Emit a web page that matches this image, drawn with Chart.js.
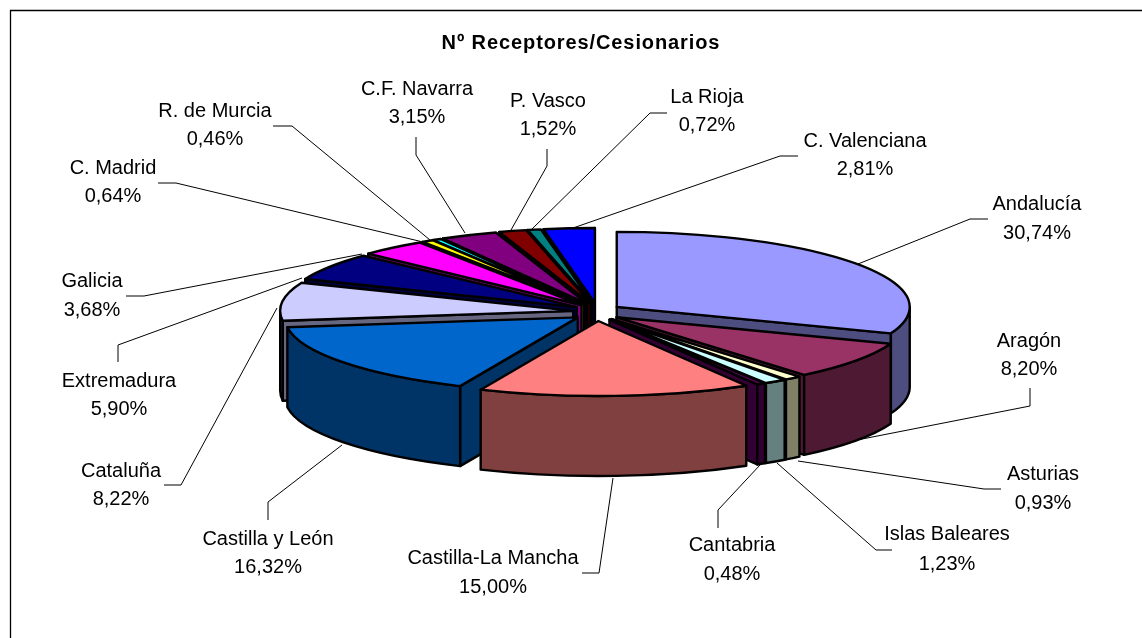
<!DOCTYPE html>
<html>
<head>
<meta charset="utf-8">
<style>
html,body{margin:0;padding:0;background:#fff;overflow:hidden}
#wrap{width:1142px;height:638px;position:relative}
canvas{display:block}
</style>
<script src="https://cdn.jsdelivr.net/npm/chart.js@4/dist/chart.umd.min.js"></script>
</head>
<body>
<div id="wrap"><canvas id="c" width="1142" height="638"></canvas></div>
<script>
const chartTitle = 'Nº Receptores/Cesionarios';
const categories = ['Andalucía','Aragón','Asturias','Islas Baleares','Cantabria','Castilla-La Mancha','Castilla y León','Cataluña','Extremadura','Galicia','C. Madrid','R. de Murcia','C.F. Navarra','P. Vasco','La Rioja','C. Valenciana'];
const values = [30.74,8.20,0.93,1.23,0.48,15.00,16.32,8.22,5.90,3.68,0.64,0.46,3.15,1.52,0.72,2.81];
const topColors = ['#9999FF','#993366','#FFFFCC','#CCFFFF','#660066','#FF8080','#0066CC','#CCCCFF','#000080','#FF00FF','#FFFF00','#00FFFF','#800080','#800000','#008080','#0000FF'];
const sideColors = ['#4D4D80','#4D1933','#808066','#668080','#330033','#804040','#003366','#666680','#000040','#800080','#808000','#008080','#400040','#400000','#004040','#000080'];

// layout of the labels: [centre x, first line y, second line y]
const labelSpots = [[1037,204,233],[1029,341,369],[1043,474,503],[947,534,564],[732,545,574],[493,558,587],[268,539,567],[121,471,499],[119,381,409],[92,281,310],[113,168,196],[215,111,139],[417,89,117],[548,101,129],[707,97,125],[865,141,169]];
const leaders = [
 [[988,219],[970,219],[858,264]],
 [[1030,388],[1030,406],[857,440]],
 [[1001,489],[984,489],[798,461]],
 [[892,550],[876,550],[777,463]],
 [[718,528],[718,510],[760,465]],
 [[582,573],[599,573],[613,478]],
 [[268,520],[268,502],[342,445]],
 [[164,485],[181,485],[277,308]],
 [[118,362],[118,345],[302,278]],
 [[126,296],[144,296],[362,254]],
 [[158,183],[176,183],[423,242]],
 [[273,126],[292,126],[430,240]],
 [[416,137],[416,155],[465,233]],
 [[547,149],[547,166],[511,230]],
 [[667,113],[650,113],[532,229]],
 [[798,156],[780,156],[573,228]]
];

// 3D look of the pie
const centre = {x:597, y:312};
const squash = 0.256, pieRadius = 293, depth = 80, burstX = 24, burstY = 9, edge = 2.4;

const pie3d = {
  id:'pie3d',
  beforeDraw(chart){ chart.ctx.letterSpacing = '0.9px'; },
  afterLayout(chart){ if(chart.titleBlock){ chart.titleBlock.left = 20; } },
  beforeDatasetsDraw(chart){
    const ctx = chart.ctx;
    ctx.letterSpacing = '0px';
    // frame (top and left edges only are inside the picture)
    ctx.save();
    ctx.strokeStyle = '#000'; ctx.lineWidth = 1.3;
    ctx.beginPath(); ctx.moveTo(10.5,638); ctx.lineTo(10.5,10.5); ctx.lineTo(1142,10.5); ctx.stroke();
    ctx.restore();

    const arcs = chart.getDatasetMeta(0).data;
    const order = arcs.map((a,i)=>i).sort((p,q)=>{
      const m = i => (arcs[i].startAngle+arcs[i].endAngle)/2;
      return Math.sin(m(p)) - Math.sin(m(q));
    });
    ctx.lineJoin = 'round';
    for(const i of order){
      const arc = arcs[i];
      const mid = (arc.startAngle+arc.endAngle)/2;
      const ax = centre.x + Math.cos(mid)*burstX;
      const ay = centre.y + Math.sin(mid)*burstY;
      const r = arc.outerRadius, ry = r*squash;
      const rim = t => [ax+r*Math.cos(t), ay+ry*Math.sin(t)];
      ctx.save();
      ctx.lineWidth = edge; ctx.strokeStyle = '#000'; ctx.fillStyle = sideColors[i];
      const wall = t => {
        const p = rim(t);
        ctx.beginPath(); ctx.moveTo(ax,ay); ctx.lineTo(p[0],p[1]); ctx.lineTo(p[0],p[1]+depth); ctx.lineTo(ax,ay+depth); ctx.closePath();
        ctx.fill(); ctx.stroke();
      };
      if(Math.cos(arc.startAngle) < 0) wall(arc.startAngle);
      if(Math.cos(arc.endAngle) > 0) wall(arc.endAngle);
      // outer wall, front half only
      const a0 = Math.max(arc.startAngle,0), a1 = Math.min(arc.endAngle,Math.PI);
      if(a1 > a0){
        ctx.beginPath();
        ctx.ellipse(ax,ay,r,ry,0,a0,a1,false);
        ctx.ellipse(ax,ay+depth,r,ry,0,a1,a0,true);
        ctx.closePath(); ctx.fill(); ctx.stroke();
      }
      // top face drawn by the library's own arc element
      ctx.save();
      ctx.translate(ax,ay);
      ctx.scale(1,squash);
      ctx.translate(-arc.x,-arc.y);
      arc.draw(ctx);
      ctx.beginPath();
      ctx.moveTo(arc.x,arc.y);
      ctx.arc(arc.x,arc.y,r,arc.startAngle,arc.endAngle);
      ctx.closePath();
      ctx.restore();
      ctx.stroke();
      ctx.restore();
    }
    return false;
  },
  afterDraw(chart){
    const ctx = chart.ctx;
    ctx.save();
    ctx.letterSpacing = '0px';
    ctx.strokeStyle = '#000'; ctx.lineWidth = 1;
    for(const l of leaders){
      ctx.beginPath();
      l.forEach((p,i)=> i ? ctx.lineTo(p[0],p[1]) : ctx.moveTo(p[0],p[1]));
      ctx.stroke();
    }
    ctx.fillStyle = '#000';
    ctx.font = '20px "Liberation Sans"';
    ctx.textAlign = 'center'; ctx.textBaseline = 'middle';
    categories.forEach((name,i)=>{
      const s = labelSpots[i];
      ctx.fillText(name,s[0],s[1]);
      ctx.fillText(values[i].toFixed(2).replace('.',',')+'%',s[0],s[2]);
    });
    ctx.restore();
  }
};

new Chart(document.getElementById('c'),{
  type:'pie',
  data:{labels:categories,datasets:[{data:values,backgroundColor:topColors,borderWidth:0,hoverOffset:0}]},
  options:{
    responsive:false,animation:false,radius:pieRadius,
    events:[],
    layout:{padding:0},
    plugins:{
      legend:{display:false},tooltip:{enabled:false},
      title:{display:true,text:chartTitle,color:'#000',font:{family:'"Liberation Sans"',size:20,weight:'bold'},padding:{top:31,bottom:0}}
    }
  },
  plugins:[pie3d]
});
</script>
</body>
</html>
